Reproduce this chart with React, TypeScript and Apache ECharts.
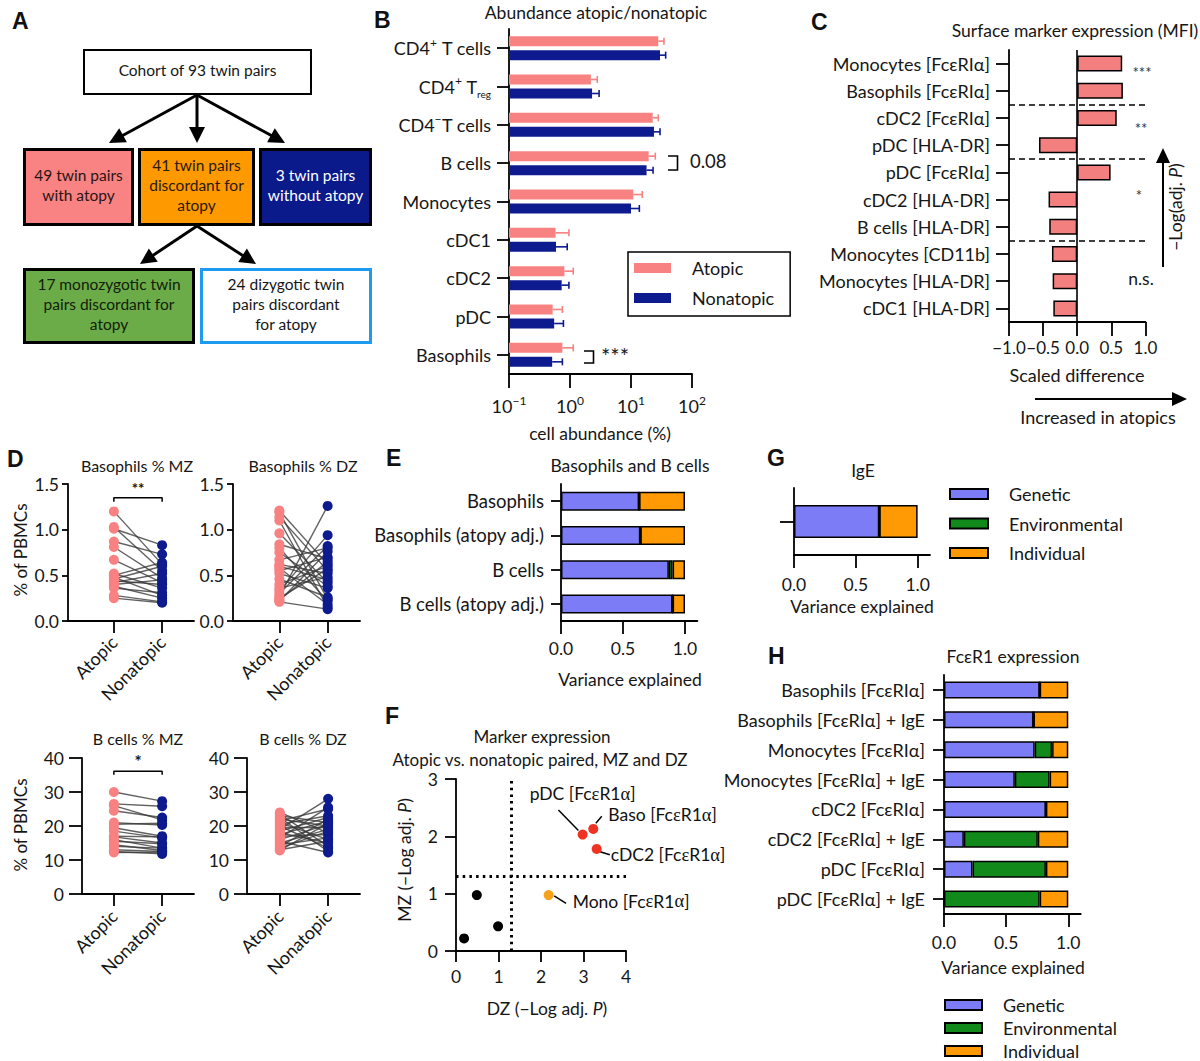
import React, { useEffect, useRef } from 'react';
import * as echarts from 'echarts';

const FONT = 'Lato';
const INK = '#161616';
const PINK = '#F88181';
const NAVY = '#0D1B8E';
const GEN = '#7C7CF6';
const ENV = '#128A1B';
const IND = '#FF9A05';
const BAR_C = '#F47F7F';

// ---------- Panel B: abundance ----------
const abundCats = ['CD4+ T cells', 'CD4+ Treg', 'CD4− T cells', 'B cells', 'Monocytes', 'cDC1', 'cDC2', 'pDC', 'Basophils'];
const abundAtopic = [28, 2.2, 22.7, 19.5, 10.9, 0.58, 0.81, 0.52, 0.75];
const abundAtopicErr = [34.7, 2.8, 28, 25, 15.3, 0.96, 1.13, 0.75, 1.13];
const abundNonatopic = [29.9, 2.3, 23.8, 18, 10, 0.59, 0.73, 0.55, 0.51];
const abundNonatopicErr = [37, 3.0, 29.9, 23, 13.7, 0.9, 0.96, 0.78, 0.75];

// ---------- Panel C: surface markers ----------
const markerCats = ['Monocytes [FcεRIα]', 'Basophils [FcεRIα]', 'cDC2 [FcεRIα]', 'pDC [HLA-DR]', 'pDC [FcεRIα]', 'cDC2 [HLA-DR]', 'B cells [HLA-DR]', 'Monocytes [CD11b]', 'Monocytes [HLA-DR]', 'cDC1 [HLA-DR]'];
const markerDiff = [0.66, 0.67, 0.58, -0.56, 0.49, -0.42, -0.41, -0.37, -0.36, -0.35];
const markerGroupBreaks = [2, 4, 7];

// ---------- Panel D: paired values [atopic, nonatopic] ----------
const dCats = ['Atopic', 'Nonatopic'];
const basoMZ = [[1.20, 0.62], [1.03, 0.55], [1.01, 0.83], [0.87, 0.73], [0.81, 0.47], [0.67, 0.42], [0.52, 0.36], [0.50, 0.64], [0.48, 0.28], [0.46, 0.60], [0.44, 0.40], [0.42, 0.52], [0.40, 0.45], [0.38, 0.25], [0.36, 0.31], [0.28, 0.21], [0.25, 0.20]];
const basoDZ = [[1.21, 0.62], [1.19, 0.24], [1.14, 0.55], [1.10, 0.15], [0.96, 0.42], [0.84, 0.68], [0.80, 0.22], [0.75, 0.38], [0.67, 0.80], [0.62, 0.52], [0.58, 0.18], [0.55, 0.70], [0.52, 0.36], [0.46, 0.26], [0.40, 0.60], [0.36, 0.48], [0.33, 0.94], [0.30, 0.82], [0.27, 1.26], [0.25, 0.57], [0.23, 0.65], [0.22, 0.76], [0.21, 0.13], [0.60, 0.45]];
const bcellMZ = [[30, 27.3], [26.5, 25.8], [26, 21.8], [24.5, 22.5], [21, 20.3], [20.5, 20.8], [19.5, 17], [18.5, 16.5], [17, 16.8], [16.8, 15], [16, 13.5], [15.5, 14.8], [14.5, 12.8], [14, 13.5], [13, 12.5], [12.5, 11.8], [12.2, 12.3]];
const bcellDZ = [[24, 18], [23.5, 14], [23, 21], [22.5, 12.5], [22, 20], [21.5, 25], [21, 16], [20.5, 23], [20, 13.5], [19.5, 19.5], [19, 28], [18.5, 22.5], [18, 15], [17.5, 21.5], [17, 17.5], [16.5, 25.5], [16, 20.5], [15.5, 12.2], [15, 19], [14.5, 16.5], [14, 22], [13.5, 18.5], [13, 15.5], [12.8, 20.8]];

// ---------- Panel E ----------
const eCats = ['Basophils', 'Basophils (atopy adj.)', 'B cells', 'B cells (atopy adj.)'];
const eGenetic = [0.63, 0.64, 0.87, 0.90];
const eEnvironmental = [0, 0, 0.03, 0];
const eIndividual = [0.37, 0.36, 0.10, 0.10];

// ---------- Panel F ----------
const fNames = ['', '', '', 'Mono [Fc{g|ε}R1{g|α}]', 'pDC [Fc{g|ε}R1{g|α}]', 'Baso [Fc{g|ε}R1{g|α}]', 'cDC2 [Fc{g|ε}R1{g|α}]'];
const fDZ = [0.19, 0.49, 0.99, 2.18, 2.98, 3.23, 3.31];
const fMZ = [0.22, 0.975, 0.43, 0.975, 2.03, 2.13, 1.78];
const fGroup = ['ns', 'ns', 'ns', 'dz', 'both', 'both', 'both'];
const fThreshold = 1.3;

// ---------- Panel G ----------
const gCats = ['IgE'];
const gGenetic = [0.69];
const gEnvironmental = [0];
const gIndividual = [0.31];

// ---------- Panel H ----------
const hCats = ['Basophils [FcεRIα]', 'Basophils [FcεRIα] + IgE', 'Monocytes [FcεRIα]', 'Monocytes [FcεRIα] + IgE', 'cDC2 [FcεRIα]', 'cDC2 [FcεRIα] + IgE', 'pDC [FcεRIα]', 'pDC [FcεRIα] + IgE'];
const hGenetic = [0.77, 0.72, 0.73, 0.57, 0.82, 0.16, 0.23, 0];
const hEnvironmental = [0, 0, 0.14, 0.28, 0, 0.595, 0.59, 0.77];
const hIndividual = [0.23, 0.28, 0.13, 0.15, 0.18, 0.245, 0.18, 0.23];

const componentNames = ['Genetic', 'Environmental', 'Individual'];
const componentColors = [GEN, ENV, IND];

// ---------- helpers ----------
const AXW = 1.8;
const axLine = { show: true, onZero: false, lineStyle: { color: '#000', width: AXW } };
const tick = (len: number, extra: any = {}) => ({ show: true, length: len, lineStyle: { color: '#000', width: AXW }, ...extra });
const noSplit = { show: false };
const minus = (s: string) => s.replace('-', '−');

const txt = (x: number, y: number, text: string, o: any = {}) => ({
  type: 'text', x, y, silent: true, rotation: o.rotation || 0,
  style: { text, fontFamily: FONT, fontSize: 17, fill: INK, align: 'center', verticalAlign: 'middle', ...(o.style || {}) },
});
const letter = (x: number, y: number, t: string) => txt(x, y, t, { style: { fontFamily: 'Liberation Sans', fontWeight: 'bold', fontSize: 23, align: 'left', fill: '#111' } });

function arrow(x1: number, y1: number, x2: number, y2: number, w = 3, hl = 16, hw = 8) {
  const dx = x2 - x1, dy = y2 - y1, L = Math.hypot(dx, dy), ux = dx / L, uy = dy / L;
  const bx = x2 - ux * hl, by = y2 - uy * hl;
  return [
    { type: 'line', silent: true, shape: { x1, y1, x2: bx + ux * 2, y2: by + uy * 2 }, style: { stroke: '#000', lineWidth: w } },
    { type: 'polygon', silent: true, shape: { points: [[x2, y2], [bx - uy * hw, by + ux * hw], [bx + uy * hw, by - ux * hw]] }, style: { fill: '#000' } },
  ];
}

function box(x: number, y: number, w: number, h: number, fill: string, stroke: string, lw: number, text: string, color: string) {
  return [
    { type: 'rect', silent: true, shape: { x: x + lw / 2, y: y + lw / 2, width: w - lw, height: h - lw }, style: { fill, stroke, lineWidth: lw } },
    { type: 'text', silent: true, x: x + w / 2, y: y + h / 2 - 2, style: { text, fontFamily: FONT, fontSize: 15.5, lineHeight: 20, fill: color, align: 'center', verticalAlign: 'middle' } },
  ];
}

const abundRich: Record<string, string> = {
  'CD4+ T cells': 'CD4{sup|+} T cells',
  'CD4+ Treg': 'CD4{sup|+} T{sub|reg}',
  'CD4− T cells': 'CD4{sup|−}T cells',
};

function abundRender(shift: number, color: string) {
  return (params: any, api: any) => {
    const v = api.value(0), c = api.value(1), e = api.value(2);
    const p0 = api.coord([0.1, c]);
    const p1 = api.coord([v, c]);
    const pe = api.coord([e, c]);
    const y = p0[1] + shift;
    const h = 10;
    return {
      type: 'group',
      children: [
        { type: 'rect', shape: { x: p0[0], y: y - h / 2, width: p1[0] - p0[0], height: h }, style: { fill: color } },
        { type: 'line', shape: { x1: p1[0], y1: y, x2: pe[0], y2: y }, style: { stroke: color, lineWidth: 1.6 } },
        { type: 'line', shape: { x1: pe[0], y1: y - 3.5, x2: pe[0], y2: y + 3.5 }, style: { stroke: color, lineWidth: 1.6 } },
      ],
    };
  };
}

const dPanels = [
  { grid: 2, xMin: 0.05, xMax: 2.66, yMax: 1.5, yInt: 0.5, dec: 1, tickLen: 6, margin: 9, labMargin: 18, pairs: basoMZ, bracket: [1.306, 1.35] },
  { grid: 3, xMin: 0.04, xMax: 2.67, yMax: 1.5, yInt: 0.5, dec: 1, tickLen: 6, margin: 9, labMargin: 18, pairs: basoDZ, bracket: null },
  { grid: 4, xMin: 0.34, xMax: 2.66, yMax: 40, yInt: 10, dec: 0, tickLen: 13, margin: 18, labMargin: 19, pairs: bcellMZ, bracket: [35.1, 36.1] },
  { grid: 5, xMin: 0.32, xMax: 2.66, yMax: 40, yInt: 10, dec: 0, tickLen: 13, margin: 18, labMargin: 19, pairs: bcellDZ, bracket: null },
];

const catLabel = (margin: number, extra: any = {}) => ({ show: true, fontSize: 18, color: INK, fontFamily: FONT, margin, ...extra });
const fracLabel = (margin: number) => ({ show: true, fontSize: 17.5, color: INK, fontFamily: FONT, margin, customValues: [0, 0.5, 1], formatter: (v: number) => v.toFixed(1) });

function stackSeries(grid: number, gen: number[], env: number[], ind: number[], barWidth: number) {
  return [gen, env, ind].map((vals, k) => ({
    type: 'bar', name: componentNames[k], xAxisIndex: grid, yAxisIndex: grid, stack: 'g' + grid, barWidth,
    data: vals, silent: true,
    itemStyle: { color: componentColors[k], borderColor: '#000', borderWidth: 1.5 },
  }));
}

function legendFor(left: number, top: number, gap: number, w: number) {
  return {
    left, top, orient: 'vertical', selectedMode: false, itemWidth: w, itemHeight: 10, itemGap: gap, padding: 0,
    data: componentNames.map((n) => ({ name: n, icon: 'rect' })),
    textStyle: { fontSize: 18, color: INK, fontFamily: FONT, lineHeight: 20, padding: [0, 0, 0, 16] },
  };
}

function buildOption() {
  const fColors: Record<string, string> = { ns: '#000', dz: '#F7A21B', both: '#EE3323' };
  const fLabelPos: any[] = [null, null, null,
    { offset: [24, 6], align: 'left' },
    { offset: [0, -41], align: 'center' },
    { offset: [15, -14], align: 'left' },
    { offset: [14, 6], align: 'left' }];
  const leader = [
    [[2.41, 2.46], [2.88, 2.10]],
    [[3.43, 2.35], [3.29, 2.23]],
    [[3.39, 1.73], [3.62, 1.68]],
    [[2.31, 0.96], [2.59, 0.83]],
  ];

  const xAxis: any[] = [
    { gridIndex: 0, type: 'log', logBase: 10, min: 0.1, max: 100, axisLine: axLine, axisTick: tick(14), splitLine: noSplit, minorTick: { show: false },
      axisLabel: { show: true, fontSize: 18, color: INK, fontFamily: FONT, margin: 20, lineHeight: 24,
        formatter: (v: number) => { const e = Math.round(Math.log10(v)); return `10{sup|${e < 0 ? '−' : ''}${Math.abs(e)}}`; },
        rich: { sup: { fontSize: 12, verticalAlign: 'top', lineHeight: 11, fontFamily: FONT, color: INK } } } },
    { gridIndex: 1, type: 'value', min: -1, max: 1, interval: 0.5, axisLine: axLine, axisTick: tick(14), splitLine: noSplit,
      axisLabel: { show: true, fontSize: 17, color: INK, fontFamily: FONT, margin: 17, showMinLabel: true, showMaxLabel: true, hideOverlap: false,
        customValues: [-1, -0.5, 0, 0.5, 1], formatter: (v: number) => minus(v.toFixed(1)) } },
  ];
  const yAxis: any[] = [
    { gridIndex: 0, type: 'category', inverse: true, data: abundCats, axisLine: axLine, axisTick: tick(12, { alignWithLabel: true }), splitLine: noSplit,
      axisLabel: catLabel(18, { lineHeight: 24, formatter: (v: string) => abundRich[v] ?? v,
        rich: { sup: { fontSize: 12, verticalAlign: 'top', lineHeight: 11, fontFamily: FONT, color: INK }, sub: { fontSize: 10, verticalAlign: 'bottom', lineHeight: 9, fontFamily: FONT, color: INK } } }) },
    { gridIndex: 1, type: 'category', inverse: true, data: markerCats, axisLine: axLine, axisTick: tick(13, { alignWithLabel: true }), splitLine: noSplit, axisLabel: catLabel(19) },
  ];
  dPanels.forEach((p) => {
    xAxis.push({ gridIndex: p.grid, type: 'value', min: p.xMin, max: p.xMax, axisLine: axLine, splitLine: noSplit,
      axisTick: tick(12, { customValues: [1, 2] }),
      axisLabel: { show: true, customValues: [1, 2], rotate: 45, fontSize: 18, color: INK, fontFamily: FONT, margin: p.labMargin, formatter: (v: number) => dCats[Math.round(v) - 1] } });
    yAxis.push({ gridIndex: p.grid, type: 'value', min: 0, max: p.yMax, interval: p.yInt, axisLine: axLine, axisTick: tick(p.tickLen), splitLine: noSplit,
      axisLabel: { show: true, fontSize: 17.5, color: INK, fontFamily: FONT, margin: p.margin, formatter: (v: number) => v.toFixed(p.dec) } });
  });
  // E (6)
  xAxis.push({ gridIndex: 6, type: 'value', min: 0, max: 1.1, axisLine: axLine, axisTick: tick(13, { customValues: [0, 0.5, 1] }), splitLine: noSplit, axisLabel: fracLabel(18) });
  yAxis.push({ gridIndex: 6, type: 'category', inverse: true, data: eCats, axisLine: axLine, axisTick: tick(10, { alignWithLabel: true }), splitLine: noSplit, axisLabel: catLabel(17, { fontSize: 18.5 }) });
  // F (7)
  xAxis.push({ gridIndex: 7, type: 'value', min: 0, max: 4, interval: 1, axisLine: axLine, axisTick: tick(11), splitLine: noSplit,
    axisLabel: { show: true, fontSize: 17.5, color: INK, fontFamily: FONT, margin: 16 } });
  yAxis.push({ gridIndex: 7, type: 'value', min: 0, max: 3, interval: 1, axisLine: axLine, axisTick: tick(11), splitLine: noSplit,
    axisLabel: { show: true, fontSize: 17.5, color: INK, fontFamily: FONT, margin: 18 } });
  // G (8)
  xAxis.push({ gridIndex: 8, type: 'value', min: 0, max: 1.1, axisLine: axLine, axisTick: tick(13, { customValues: [0, 0.5, 1] }), splitLine: noSplit, axisLabel: fracLabel(20) });
  yAxis.push({ gridIndex: 8, type: 'category', inverse: true, data: gCats, axisLine: axLine, axisTick: tick(14, { alignWithLabel: true }), splitLine: noSplit, axisLabel: { show: false } });
  // H (9)
  xAxis.push({ gridIndex: 9, type: 'value', min: 0, max: 1.1, axisLine: axLine, axisTick: tick(13, { customValues: [0, 0.5, 1] }), splitLine: noSplit, axisLabel: fracLabel(19) });
  yAxis.push({ gridIndex: 9, type: 'category', inverse: true, data: hCats, axisLine: axLine, axisTick: tick(11, { alignWithLabel: true }), splitLine: noSplit, axisLabel: catLabel(19) });
  // C helper value axis (10)
  yAxis.push({ gridIndex: 1, type: 'value', min: 0, max: markerCats.length, inverse: true, show: false });

  const series: any[] = [
    { type: 'custom', name: 'Atopic', xAxisIndex: 0, yAxisIndex: 0, renderItem: abundRender(-7, PINK), encode: { x: 0, y: 1 },
      data: abundAtopic.map((v, i) => [v, i, abundAtopicErr[i]]), itemStyle: { color: PINK }, silent: true },
    { type: 'custom', name: 'Nonatopic', xAxisIndex: 0, yAxisIndex: 0, renderItem: abundRender(7, NAVY), encode: { x: 0, y: 1 },
      data: abundNonatopic.map((v, i) => [v, i, abundNonatopicErr[i]]), itemStyle: { color: NAVY }, silent: true },
    { type: 'bar', xAxisIndex: 1, yAxisIndex: 1, data: markerDiff, barWidth: 16, silent: true,
      itemStyle: { color: BAR_C, borderColor: '#000', borderWidth: 1.5 } },
    { type: 'line', xAxisIndex: 1, yAxisIndex: 10, data: [], silent: true,
      markLine: { silent: true, symbol: ['none', 'none'], label: { show: false },
        lineStyle: { color: '#000', width: 1.5, type: [6, 4] },
        data: [...markerGroupBreaks.map((b) => ({ yAxis: b })), { xAxis: 0, lineStyle: { type: 'solid', width: 1.6, color: '#000' } }] } },
  ];

  dPanels.forEach((p) => {
    series.push({ type: 'lines', coordinateSystem: 'cartesian2d', xAxisIndex: p.grid, yAxisIndex: p.grid, silent: true,
      data: p.pairs.map((q) => ({ coords: [[1, q[0]], [2, q[1]]] })), lineStyle: { color: '#3a3a3a', width: 1.4, opacity: 0.8 } });
    series.push({ type: 'scatter', xAxisIndex: p.grid, yAxisIndex: p.grid, silent: true, symbolSize: 10, itemStyle: { color: PINK, opacity: 1 },
      data: p.pairs.map((q) => [1, q[0]]) });
    series.push({ type: 'scatter', xAxisIndex: p.grid, yAxisIndex: p.grid, silent: true, symbolSize: 10, itemStyle: { color: NAVY, opacity: 1 },
      data: p.pairs.map((q) => [2, q[1]]) });
    if (p.bracket) {
      series.push({ type: 'line', xAxisIndex: p.grid, yAxisIndex: p.grid, silent: true, symbol: 'none', lineStyle: { color: '#000', width: 1.5 },
        data: [[1, p.bracket[0]], [1, p.bracket[1]], [2, p.bracket[1]], [2, p.bracket[0]]] });
    }
  });

  series.push(...stackSeries(6, eGenetic, eEnvironmental, eIndividual, 19));

  series.push({ type: 'scatter', xAxisIndex: 7, yAxisIndex: 7, silent: true, symbolSize: 10, z: 5,
    itemStyle: { opacity: 1 },
    data: fDZ.map((x, i) => ({
      value: [x, fMZ[i]], itemStyle: { color: fColors[fGroup[i]], opacity: 1 },
      label: fNames[i] ? { show: true, position: 'inside', formatter: fNames[i], fontSize: 17.5, color: '#111', opacity: 1, fontFamily: FONT, verticalAlign: 'middle',
        textBorderWidth: 0, rich: { g: { fontFamily: 'Liberation Serif', fontSize: 18.5, color: '#111' } }, ...fLabelPos[i] } : { show: false },
    })),
    markLine: { silent: true, symbol: ['none', 'none'], label: { show: false }, lineStyle: { color: '#000', width: 1.5, type: 'solid', opacity: 1 },
      data: [
        { xAxis: fThreshold, lineStyle: { type: [2.5, 4.2], width: 3, color: '#000' } },
        { yAxis: fThreshold, lineStyle: { type: [2.5, 4.2], width: 3, color: '#000' } },
        ...leader.map((seg) => [{ coord: seg[0] }, { coord: seg[1] }]),
      ] } });

  series.push(...stackSeries(8, gGenetic, gEnvironmental, gIndividual, 33));
  series.push(...stackSeries(9, hGenetic, hEnvironmental, hIndividual, 17));

  const ital = { i: { fontStyle: 'italic', fontSize: 17.5, fontFamily: FONT, fill: INK, color: INK } };

  const graphics: any[] = [
    letter(12, 21, 'A'), letter(374, 20, 'B'), letter(811, 22, 'C'), letter(7, 459, 'D'),
    letter(386, 458, 'E'), letter(385, 716, 'F'), letter(767, 458, 'G'), letter(768, 656, 'H'),
    // panel A
    ...box(83, 49, 229, 46, '#fff', '#000', 2, 'Cohort of 93 twin pairs', INK),
    ...arrow(197, 95, 109, 143), ...arrow(197, 95, 197, 143), ...arrow(197, 95, 285, 143),
    ...box(23, 148, 111, 78, '#F98282', '#000', 3, '49 twin pairs\nwith atopy', '#2a1515'),
    ...box(138, 148, 117, 78, '#FF9900', '#000', 3, '41 twin pairs\ndiscordant for\natopy', '#2a1a05'),
    ...box(259, 148, 113, 78, '#0A1A8B', '#000', 3, '3 twin pairs\nwithout atopy', '#fff'),
    ...arrow(197, 226, 140, 264), ...arrow(197, 226, 256, 264),
    ...box(23, 268, 172, 76, '#6CAC48', '#000', 3, '17 monozygotic twin\npairs discordant for\natopy', '#10200a'),
    ...box(200, 268, 172, 76, '#fff', '#1E9BEF', 3, '24 dizygotic twin\npairs discordant\nfor atopy', INK),
    // panel B
    txt(596, 12, 'Abundance atopic/nonatopic', { style: { fontSize: 17.5 } }),
    txt(600, 433, 'cell abundance (%)', { style: { fontSize: 17.5 } }),
    { type: 'polyline', silent: true, shape: { points: [[668, 156], [677.5, 156], [677.5, 170], [668, 170]] }, style: { stroke: '#000', lineWidth: 1.6, fill: null } },
    txt(690, 161, '0.08', { style: { align: 'left', fontSize: 18.5 } }),
    { type: 'polyline', silent: true, shape: { points: [[584, 351], [593.5, 351], [593.5, 363], [584, 363]] }, style: { stroke: '#000', lineWidth: 1.6, fill: null } },
    txt(601, 355, '***', { style: { align: 'left', fontSize: 22 } }),
    // panel C
    txt(1075, 30, 'Surface marker expression (MFI)', { style: { fontSize: 17.5 } }),
    txt(1077, 375, 'Scaled difference', { style: { fontSize: 18 } }),
    ...arrow(1035, 399, 1187, 399, 2, 15, 7),
    txt(1098, 417, 'Increased in atopics', { style: { fontSize: 18 } }),
    ...arrow(1163, 267, 1163, 148, 2, 15, 7),
    txt(1175, 207, '−Log(adj. {i|P})', { rotation: Math.PI / 2, style: { rich: ital, fontSize: 17.5 } }),
    txt(1142, 72, '***', { style: { fontSize: 15, fill: '#333' } }),
    txt(1141, 128, '**', { style: { fontSize: 15, fill: '#333' } }),
    txt(1139, 195, '*', { style: { fontSize: 15, fill: '#333' } }),
    txt(1141, 278, 'n.s.', { style: { fontSize: 17.5 } }),
    // panel D
    txt(137, 465, 'Basophils % MZ', { style: { fontSize: 16 } }), txt(303, 465, 'Basophils % DZ', { style: { fontSize: 16 } }),
    txt(138, 738, 'B cells % MZ', { style: { fontSize: 16 } }), txt(303, 738, 'B cells % DZ', { style: { fontSize: 16 } }),
    txt(20, 550, '% of PBMCs', { rotation: Math.PI / 2 }),
    txt(20, 825, '% of PBMCs', { rotation: Math.PI / 2 }),
    txt(138, 488, '**', { style: { fontSize: 15, fontWeight: 'bold' } }),
    txt(138, 761, '*', { style: { fontSize: 17, fontWeight: 'bold' } }),
    // panel E
    txt(630, 465, 'Basophils and B cells', { style: { fontSize: 17.5 } }),
    txt(630, 679, 'Variance explained', { style: { fontSize: 17.5 } }),
    // panel F
    txt(542, 736, 'Marker expression'),
    txt(540, 759, 'Atopic vs. nonatopic paired, MZ and DZ'),
    txt(547, 1008, 'DZ (−Log adj. {i|P})', { style: { rich: ital, fontSize: 17.5 } }),
    txt(404, 860, 'MZ (−Log adj. {i|P})', { rotation: Math.PI / 2, style: { rich: ital, fontSize: 17.5 } }),
    // panel G
    txt(863, 470, 'IgE', { style: { fontSize: 17.5 } }),
    txt(862, 606, 'Variance explained', { style: { fontSize: 17.5 } }),
    // panel H
    txt(1013, 656, 'FcεR1 expression', { style: { fontSize: 17.5 } }),
    txt(1013, 967, 'Variance explained', { style: { fontSize: 17.5 } }),
  ];

  return {
    animation: false,
    backgroundColor: '#fff',
    textStyle: { fontFamily: FONT },
    grid: [
      { left: 509, top: 29, width: 183, height: 345 },
      { left: 1009, top: 50, width: 136.4, height: 272 },
      { left: 68, top: 484, width: 126, height: 137 },
      { left: 233, top: 484, width: 127, height: 137 },
      { left: 82, top: 758, width: 112, height: 136 },
      { left: 247, top: 758, width: 113, height: 136 },
      { left: 561, top: 484, width: 136.4, height: 137 },
      { left: 456, top: 779, width: 170, height: 172 },
      { left: 794, top: 488, width: 136, height: 67 },
      { left: 944, top: 675, width: 136.7, height: 239 },
    ],
    legend: [
      { left: 628, top: 252, orient: 'vertical', selectedMode: false, itemWidth: 37, itemHeight: 10, itemGap: 10, padding: [6, 16, 8, 6],
        borderColor: '#000', borderWidth: 1.5,
        data: [{ name: 'Atopic', icon: 'rect' }, { name: 'Nonatopic', icon: 'rect' }],
        textStyle: { fontSize: 18, color: INK, fontFamily: FONT, lineHeight: 20, padding: [0, 0, 0, 16] } },
      legendFor(949, 484, 9.5, 38),
      legendFor(944, 995, 3, 37),
    ],
    xAxis, yAxis, series,
    graphic: { elements: graphics },
  };
}

export default function App() {
  const ref = useRef<HTMLDivElement>(null);
  useEffect(() => {
    document.body.style.margin = '0';
    if (!ref.current) return;
    const chart = echarts.init(ref.current, null, { renderer: 'svg' });
    chart.setOption(buildOption() as any);
    return () => chart.dispose();
  }, []);
  return <div ref={ref} style={{ position: 'absolute', left: 0, top: 0, width: 1200, height: 1061, background: '#fff' }} />;
}
